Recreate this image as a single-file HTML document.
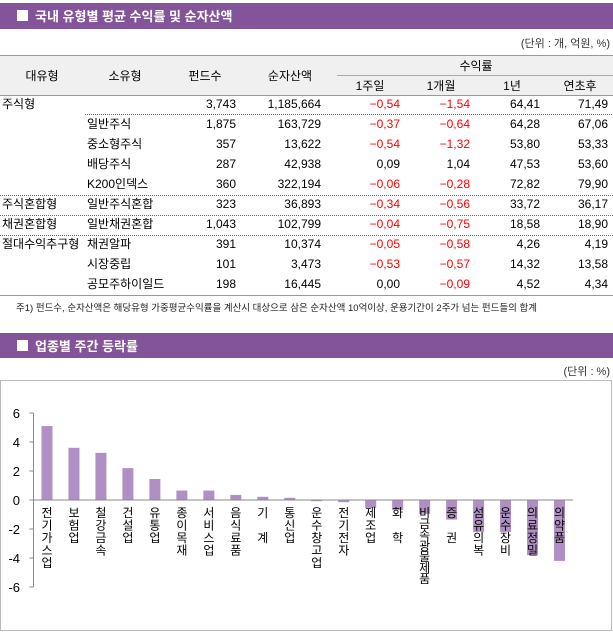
<!DOCTYPE html>
<html><head><meta charset="utf-8"><style>
body{margin:0;width:613px;height:632px;background:#fff;overflow:hidden;font-family:"Liberation Sans","Noto Sans CJK KR",sans-serif;}
svg text{font-family:"Liberation Sans","Noto Sans CJK KR",sans-serif;}
</style></head><body>
<svg width="613" height="632">
<rect x="0" y="3" width="613" height="26" fill="#84549a"/>
<rect x="17" y="10" width="11" height="11" fill="#fff"/>
<text x="35" y="21" fill="#fff" font-size="13" font-weight="bold">국내 유형별 평균 수익률 및 순자산액</text>
<text x="610" y="47" text-anchor="end" font-size="11" fill="#333">(단위 : 개, 억원, %)</text>
<rect x="0" y="55" width="613" height="40" fill="#f0f0f0"/>
<line x1="0" y1="55.5" x2="613" y2="55.5" stroke="#999"/>
<line x1="0" y1="95.5" x2="613" y2="95.5" stroke="#999"/>
<line x1="337" y1="75.5" x2="613" y2="75.5" stroke="#aaa"/>
<g font-size="12" text-anchor="middle" fill="#000">
<text x="42" y="80">대유형</text><text x="125" y="80">소유형</text><text x="205" y="80">펀드수</text><text x="290" y="80">순자산액</text>
<text x="476" y="70">수익률</text><text x="370" y="90">1주일</text><text x="441" y="90">1개월</text><text x="512" y="90">1년</text><text x="580" y="90">연초후</text>
</g>
<g stroke="#666" stroke-dasharray="1,1">
<line x1="85" y1="114.5" x2="613" y2="114.5"/><line x1="0" y1="195.5" x2="613" y2="195.5"/><line x1="0" y1="215.5" x2="613" y2="215.5"/><line x1="0" y1="235.5" x2="613" y2="235.5"/>
</g>
<line x1="0" y1="295.5" x2="613" y2="295.5" stroke="#999"/>
<g font-size="12" id="tb"></g>
<text x="16" y="311" font-size="9.5" fill="#222">주1) 펀드수, 순자산액은 해당유형 가중평균수익률을 계산시 대상으로 삼은 순자산액 10억이상, 운용기간이 2주가 넘는 펀드들의 합계</text>
<rect x="0" y="333" width="613" height="25" fill="#84549a"/>
<rect x="17" y="340" width="11" height="11" fill="#fff"/>
<text x="35" y="351" fill="#fff" font-size="13" font-weight="bold">업종별 주간 등락률</text>
<text x="610" y="375" text-anchor="end" font-size="11" fill="#333">(단위 : %)</text>
<rect x="0.5" y="380.5" width="611" height="250" fill="none" stroke="#bbb"/>
<g id="chart"></g>
</svg>
<script>
const rows=[["주식형","","3,743","1,185,664","-0,54","-1,54","64,41","71,49"],
["","일반주식","1,875","163,729","-0,37","-0,64","64,28","67,06"],
["","중소형주식","357","13,622","-0,54","-1,32","53,80","53,33"],
["","배당주식","287","42,938","0,09","1,04","47,53","53,60"],
["","K200인덱스","360","322,194","-0,06","-0,28","72,82","79,90"],
["주식혼합형","일반주식혼합","323","36,893","-0,34","-0,56","33,72","36,17"],
["채권혼합형","일반채권혼합","1,043","102,799","-0,04","-0,75","18,58","18,90"],
["절대수익추구형","채권알파","391","10,374","-0,05","-0,58","4,26","4,19"],
["","시장중립","101","3,473","-0,53","-0,57","14,32","13,58"],
["","공모주하이일드","198","16,445","0,00","-0,09","4,52","4,34"]];
const NS="http://www.w3.org/2000/svg";
const tb=document.getElementById('tb');
const xs=[[2,'start'],[87,'start'],[236,'end'],[321,'end'],[400,'end'],[470,'end'],[540,'end'],[608,'end']];
rows.forEach((r,i)=>{const y=108+i*20;r.forEach((v,j)=>{if(!v)return;const t=document.createElementNS(NS,'text');
t.setAttribute('x',xs[j][0]);t.setAttribute('y',y);t.setAttribute('text-anchor',xs[j][1]);
t.setAttribute('fill',(j>=4&&v[0]=='-')?'#f00':'#000');t.textContent=v.replace(/^-/,'−');


tb.appendChild(t);});});

const categories=["전기가스업","보험업","철강금속","건설업","유통업","종이목재","서비스업","음식료품","기 계","통신업","운수창고업","전기전자","제조업","화 학","비금속광물제품","증 권","섬유의복","운수장비","의료정밀","의약품"];
const values=[5.1,3.6,3.25,2.2,1.45,0.65,0.65,0.35,0.22,0.15,-0.08,-0.15,-0.55,-0.7,-0.95,-1.35,-2.2,-2.2,-3.8,-4.2];
const ticks=[6,4,2,0,-2,-4,-6];
const g=document.getElementById('chart');
const x0=33.5,x1=573,cw=(x1-x0)/categories.length;
const y=v=>500-v*14.5;
function el(tag,a){const e=document.createElementNS(NS,tag);for(const k in a)e.setAttribute(k,a[k]);g.appendChild(e);return e;}
el('line',{x1:x0,y1:y(6),x2:x0,y2:y(-6),stroke:'#888'});
ticks.forEach(t=>{el('line',{x1:x0-4,y1:y(t),x2:x0,y2:y(t),stroke:'#888'});
const tx=el('text',{x:20,y:y(t)+5,'text-anchor':'end','font-size':'13'});tx.textContent=t;

});
values.forEach((v,i)=>{const cx=x0+cw*(i+0.5);
const b=el('rect',{x:cx-5.5,y:Math.min(y(v),y(0)),width:11,height:Math.abs(y(v)-y(0)),fill:'#b08fc4'});

});
el('line',{x1:x0,y1:y(0),x2:x1,y2:y(0),stroke:'#888'});
categories.forEach((c,i)=>{const cx=x0+cw*(i+0.5);const chars=[...c];const step=chars.length>5?11:12.5;
const t=el('text',{'font-size':'12','text-anchor':'middle'});


chars.forEach((ch,k)=>{const s=document.createElementNS(NS,'tspan');s.setAttribute('x',cx);s.setAttribute('y',517+k*step);s.textContent=ch;t.appendChild(s);});});
</script>
</body></html>
